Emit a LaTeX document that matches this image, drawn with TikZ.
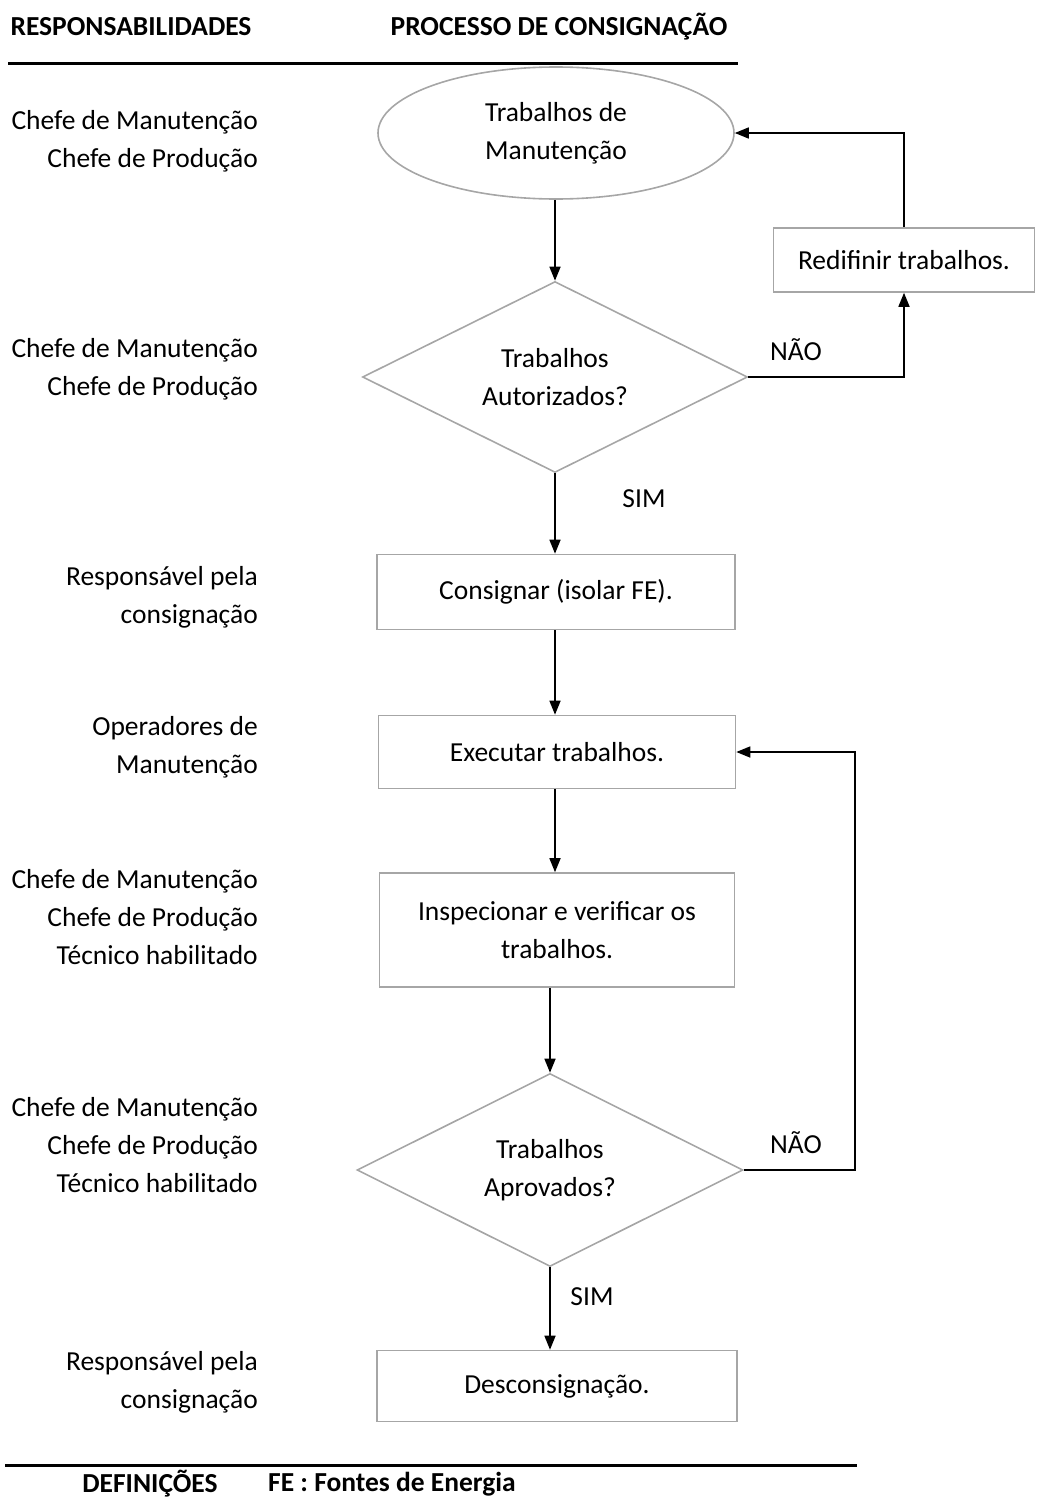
\documentclass[tikz,border=0pt]{standalone}
\usepackage{fontspec}
\setmainfont{Carlito}
\usetikzlibrary{shapes.geometric,arrows.meta}
\begin{document}
\begin{tikzpicture}[x=1pt,y=-1pt,
  every node/.style={font=\fontsize{27.5}{38}\selectfont},
  shapebox/.style={draw=black!35,line width=1.6pt,rectangle,align=center,inner sep=0pt},
  ellbox/.style={draw=black!35,line width=1.6pt,ellipse,align=center,inner sep=0pt,minimum width=356pt,minimum height=132pt},
  decbox/.style={draw=black!35,line width=1.6pt,diamond,aspect=2,align=center,inner sep=0pt,minimum width=385pt,minimum height=191pt},
  flow/.style={line width=1.6pt,-{Triangle[length=14pt,width=11pt]}},
  resp/.style={align=right,anchor=east,inner sep=0pt},
  lbl/.style={inner sep=0pt},
  hdr/.style={font=\fontsize{27.5}{32}\selectfont\bfseries,inner sep=0pt},
  rule/.style={line width=3pt}]
\useasboundingbox (0,0) rectangle (1036,1499);

% headers
\node[hdr] (h1) at (131,27) {RESPONSABILIDADES};
\node[hdr] (h2) at (559,27) {PROCESSO DE CONSIGNAÇÃO};
\coordinate (r1a) at (8,63);
\coordinate (r1b) at (738,63);
\draw[rule] (r1a) -- (r1b);

% process nodes
\node[ellbox] (e1) at (556,133) {Trabalhos de\\Manutenção};
\node[decbox] (d1) at (555,377) {Trabalhos\\Autorizados?};
\node[shapebox,minimum width=261pt,minimum height=64pt] (rd) at (904,260) {Redifinir trabalhos.};
\node[shapebox,minimum width=358pt,minimum height=75pt] (b1) at (556,592) {Consignar (isolar FE).};
\node[shapebox,minimum width=357pt,minimum height=73pt] (b2) at (557,752) {Executar trabalhos.};
\node[shapebox,minimum width=355pt,minimum height=114pt] (b3) at (557,930) {Inspecionar e verificar os\\trabalhos.};
\node[decbox,minimum width=386pt,minimum height=193pt] (d2) at (550,1170) {Trabalhos\\Aprovados?};
\node[shapebox,minimum width=360pt,minimum height=71pt] (b4) at (557,1386) {Desconsignação.};

% connectors
\draw[flow] (e1.south -| d1.north) -- (d1.north);
\draw[flow] (d1.east) -| (rd.south);
\draw[flow] (rd.north) |- (e1.east);
\draw[flow] (d1.south) -- (d1.south |- b1.north);
\draw[flow] (b1.south -| d1.south) -- (d1.south |- b2.north);
\draw[flow] (b2.south -| d1.south) -- (d1.south |- b3.north);
\draw[flow] (b3.south -| d2.north) -- (d2.north);
\coordinate (c2) at (855,1170);
\draw[flow] (d2.east) -- (c2) |- (b2.east);
\draw[flow] (d2.south) -- (d2.south |- b4.north);

% branch labels
\node[lbl] (n1) at (796,350) {NÃO};
\node[lbl] (s1) at (644,499) {SIM};
\node[lbl] (n2) at (796,1143) {NÃO};
\node[lbl] (s2) at (592,1297) {SIM};

% responsibilities
\node[resp] (p1) at (258,141) {Chefe de Manutenção\\Chefe de Produção};
\node[resp] (p2) at (258,369) {Chefe de Manutenção\\Chefe de Produção};
\node[resp] (p3) at (258,597) {Responsável pela\\consignação};
\node[resp] (p4) at (258,747) {Operadores de\\Manutenção};
\node[resp] (p5) at (258,917) {Chefe de Manutenção\\Chefe de Produção\\Técnico habilitado};
\node[resp] (p6) at (258,1145) {Chefe de Manutenção\\Chefe de Produção\\Técnico habilitado};
\node[resp] (p7) at (258,1382) {Responsável pela\\consignação};

% footer
\coordinate (r2a) at (5,1465);
\coordinate (r2b) at (857,1465);
\draw[rule] (r2a) -- (r2b);
\node[hdr] (f1) at (150,1484) {DEFINIÇÕES};
\node[hdr,anchor=west] (f2) at (268,1484) {FE : Fontes de Energia};
\end{tikzpicture}
\end{document}
